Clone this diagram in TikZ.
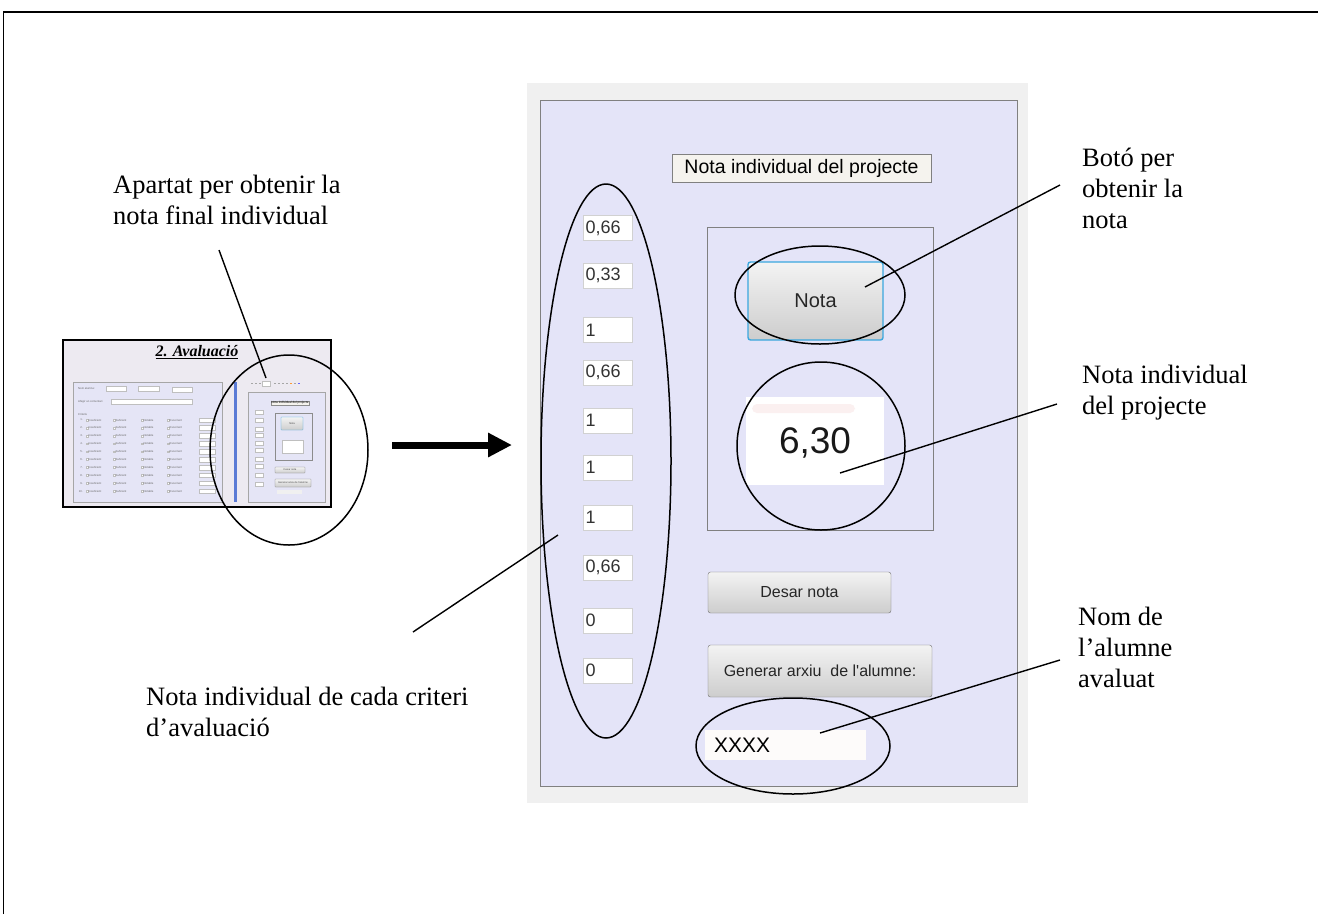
\documentclass[tikz,border=0pt]{standalone}
\usepackage{fontspec}
\setmainfont{Liberation Serif}
\newfontfamily\arialfont{Liberation Sans}
\usetikzlibrary{arrows.meta}
\definecolor{wingray}{HTML}{F0F0F0}
\definecolor{lav}{HTML}{E4E4F8}
\definecolor{panelborder}{HTML}{808080}
\definecolor{btnborder}{HTML}{707070}
\definecolor{btntop}{HTML}{F3F3F3}
\definecolor{btnmid}{HTML}{E2E2E2}
\definecolor{btnbot}{HTML}{CDCDCD}
\definecolor{btnblue}{HTML}{3AA7DF}
\definecolor{labelfill}{HTML}{F5F3EE}
\definecolor{thumbbg}{HTML}{EDEAF1}
\definecolor{thumbpanel}{HTML}{E5E5F6}
\definecolor{thumbblue}{HTML}{5B7BD5}
\definecolor{smudge}{HTML}{FBF0F0}
\definecolor{xfill}{HTML}{FDFBFA}
\begin{document}
\begin{tikzpicture}[x=1pt,y=-1pt,
  annot/.style={font=\fontsize{26.5}{31}\selectfont, align=left, anchor=north west, inner sep=0pt},
  callout/.style={line width=1.4pt, black},
  ring/.style={line width=1.5pt, black},
  winbtn/.style={draw=btnborder, rounded corners=2.5pt, top color=btntop, middle color=btnmid, bottom color=btnbot, inner sep=0pt, font=\arialfont\fontsize{16}{16}\selectfont, text=black!85},
  numbox/.style={draw=black!18, fill=white, minimum height=25pt, text width=44pt, inner xsep=2.5pt, inner ysep=0pt, align=left, anchor=west, font=\arialfont\fontsize{18}{18}\selectfont, text=black!80},
  tiny/.style={font=\arialfont\fontsize{2.8}{3}\selectfont, text=black!60, inner sep=0pt, anchor=west},
  tbox/.style={draw=black!25, fill=white, line width=0.3pt},
  tbtn/.style={draw=black!50, line width=0.3pt, top color=btntop, bottom color=btnbot, rounded corners=0.5pt, inner sep=0pt, font=\arialfont\fontsize{2.6}{3}\selectfont, text=black!70}
]
\useasboundingbox (0,0) rectangle (1318,914);
\fill[white] (0,0) rectangle (1318,914);
% outer frame
\draw[line width=1.6pt] (3.5,914) -- (3.5,12) -- (1318,12);

% ---------------- thumbnail ----------------
\draw[line width=2pt, fill=thumbbg] (63,340) rectangle (331,507);
\node[inner sep=0pt, font=\fontsize{16}{16}\selectfont\bfseries\itshape] (ttitle) at (197,352) {\underline{2. Avaluació}};
\draw[draw=black!35, fill=thumbpanel, line width=0.4pt] (73,382) rectangle (222,502);
\fill[thumbblue] (233.5,382) rectangle (236.5,502);
\draw[draw=black!35, fill=thumbpanel, line width=0.4pt] (248,392) rectangle (325,502);
% toolbar
\foreach \xx in {251,255,259} \fill[black!35] (\xx,382.5) rectangle ++(1.6,1.6);
\draw[tbox] (262,381.3) rectangle (270,385.7);
\foreach \xx in {274,278,282,286} \fill[black!35] (\xx,382.5) rectangle ++(1.6,1.6);
\fill[orange!80] (290,382.5) rectangle ++(1.8,1.8);
\fill[black!35] (294,382.5) rectangle ++(1.6,1.6);
\fill[blue!60] (298,382.5) rectangle ++(1.8,1.8);
% left panel content
\node[tiny] (tnom) at (78,388.5) {Nom alumne:};
\draw[tbox] (106,386) rectangle (126,391);
\draw[tbox] (138,386) rectangle (159,391);
\draw[tbox] (172,387) rectangle (192,392);
\node[tiny] (tafe) at (78,402) {Afegir un comentari};
\draw[tbox] (111,399.5) rectangle (192,404.5);
\node[tiny] (tcri) at (78,414) {Criteris};
\foreach \i in {1,...,10} {
  \pgfmathsetmacro\yy{420+7.9*(\i-1)}
  \node[tiny, anchor=east] (tn\i) at (83,\yy) {\i.};
  \draw[tbox] (86,\yy-0.9) rectangle ++(1.8,1.8);
  \node[tiny] (ti\i) at (88.5,\yy) {Insuficient};
  \draw[tbox] (113,\yy-0.9) rectangle ++(1.8,1.8);
  \node[tiny] (ts\i) at (115.5,\yy) {Suficient};
  \draw[tbox] (141,\yy-0.9) rectangle ++(1.8,1.8);
  \node[tiny] (tb\i) at (143.5,\yy) {Notable};
  \draw[tbox] (167,\yy-0.9) rectangle ++(1.8,1.8);
  \node[tiny] (te\i) at (169.5,\yy) {Excel·lent};
  \draw[tbox] (199,\yy-2.3) rectangle (215,\yy+2.3);
}
% right panel content
\node[draw=black!45, fill=labelfill, line width=0.3pt, inner sep=0.6pt, font=\arialfont\fontsize{3.1}{3.2}\selectfont] (tlab) at (290,403) {Nota individual del projecte};
\foreach \yy in {410,418,427,433,441,448,457,464,473,482} \draw[tbox] (255,\yy) rectangle (263,\yy+4.5);
\draw[draw=black!45, line width=0.3pt] (275,413) rectangle (312,460);
\node[tbtn, draw=btnblue, minimum width=22pt, minimum height=13pt] (tnota) at (292,423.5) {Nota};
\draw[tbox] (282,440) rectangle (303,453);
\node[tbtn, minimum width=30pt, minimum height=6pt] (tdesar) at (290,470) {Desar nota};
\node[tbtn, minimum width=36pt, minimum height=8pt] (tgen) at (293,483) {Generar arxiu de l'alumne};
\fill[black!6] (277,490) rectangle (302,494);

% thumbnail ring and callout
\draw[ring] (289,450) ellipse [x radius=79, y radius=95];
\node[annot] (lapartat) at (113,171.3) {\strut Apartat per obtenir la\\nota final individual};
\coordinate (apA) at (219,250);
\coordinate (apB) at (266,378);
\draw[callout] (apA) -- (apB);

% big arrow
\coordinate (arrS) at (392,445);
\coordinate (arrE) at (512,445);
\draw[line width=7pt, -{Triangle[length=24pt,width=23pt]}] (arrS) -- (arrE);

% ---------------- main window ----------------
\fill[wingray] (527,83) rectangle (1028,803);
\draw[draw=panelborder, fill=lav, line width=0.8pt] (540,100) rectangle (1017,786);
\node[draw=black!50, fill=labelfill, line width=0.6pt, minimum width=259pt, minimum height=28pt, inner sep=0pt, font=\arialfont\fontsize{19.5}{20}\selectfont] (title) at (801.5,168) {Nota individual del projecte};

% numbers
\node[numbox] (n1) at (583,228) {0,66};
\node[numbox] (n2) at (583,275.5) {0,33};
\node[numbox] (n3) at (583,330) {1};
\node[numbox] (n4) at (583,372.5) {0,66};
\node[numbox] (n5) at (583,420.5) {1};
\node[numbox] (n6) at (583,467.5) {1};
\node[numbox] (n7) at (583,517.5) {1};
\node[numbox] (n8) at (583,567.5) {0,66};
\node[numbox] (n9) at (583,620.5) {0};
\node[numbox] (n10) at (583,670.5) {0};

% group box
\draw[draw=panelborder, line width=0.8pt] (707,227) rectangle (933,530);
\node[winbtn, draw=btnblue, line width=1.4pt, minimum width=135pt, minimum height=78pt, font=\arialfont\fontsize{20}{20}\selectfont] (nota) at (815.5,301) {Nota};
\node[fill=white, minimum width=138pt, minimum height=88pt, inner sep=0pt] (res) at (815,441) {};
\fill[smudge, rounded corners=5pt] (752,404) rectangle (855,413);
\node[inner sep=0pt, font=\arialfont\fontsize{37}{37}\selectfont, text=black!90] (resv) at (815,443) {6,30};

\node[winbtn, minimum width=183pt, minimum height=41pt] (desar) at (799.5,592.5) {Desar nota};
\node[winbtn, minimum width=224pt, minimum height=52pt] (gen) at (820,671) {Generar arxiu\ \ de l'alumne:};
\node[fill=xfill, minimum width=161pt, minimum height=30pt, inner sep=0pt] (xbox) at (785.5,745) {};
\node[inner sep=0pt, anchor=west, font=\arialfont\fontsize{21}{21}\selectfont] (xtxt) at (714,745) {XXXX};

% rings
\draw[ring] (606,461) ellipse [x radius=65, y radius=277];
\draw[ring] (820,295) ellipse [x radius=85, y radius=49];
\draw[ring] (821,446) circle [radius=84];
\draw[ring] (793,746) ellipse [x radius=97, y radius=48];

% annotations
\node[annot] (lboto) at (1082,144.3) {\strut Botó per\\obtenir la\\nota};
\coordinate (bA) at (1060,185);
\coordinate (bB) at (865,287);
\draw[callout] (bA) -- (bB);

\node[annot] (lnota) at (1082,361.3) {\strut Nota individual\\del projecte};
\coordinate (nA) at (1057,404);
\coordinate (nB) at (840,473);
\draw[callout] (nA) -- (nB);

\node[annot] (lnom) at (1078,603.3) {\strut Nom de\\l’alumne\\avaluat};
\coordinate (mA) at (1060,660);
\coordinate (mB) at (820,733);
\draw[callout] (mA) -- (mB);

\node[annot] (lcrit) at (146,683.3) {\strut Nota individual de cada criteri\\d’avaluació};
\coordinate (cA) at (413,632);
\coordinate (cB) at (558,535);
\draw[callout] (cA) -- (cB);
\end{tikzpicture}
\end{document}
